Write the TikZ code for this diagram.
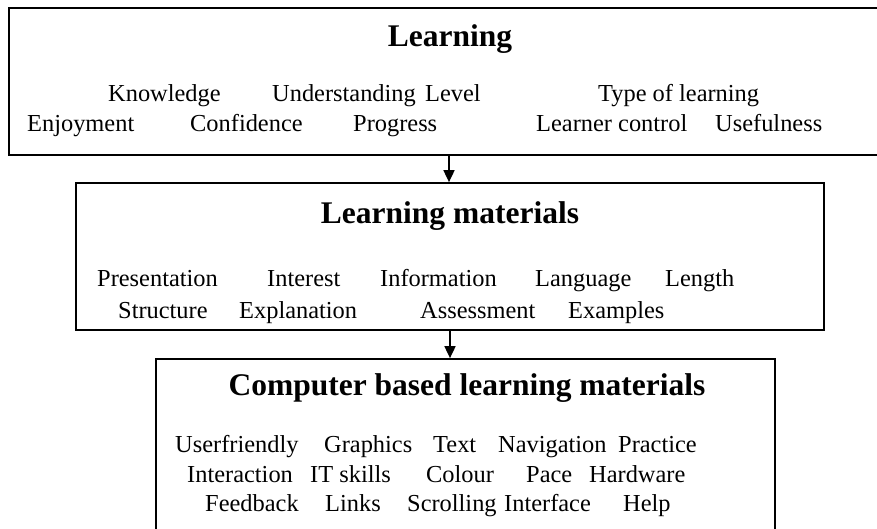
\documentclass[tikz,border=0pt]{standalone}
\usepackage{fontspec}
\setmainfont{Liberation Serif}
\usetikzlibrary{arrows.meta}
\begin{document}
\begin{tikzpicture}[x=1pt,y=-1pt,
  frame/.style={draw, line width=1.7pt, inner sep=0pt, rectangle},
  word/.style={anchor=base west, inner sep=0pt, font=\fontsize{24.4}{29}\selectfont},
  heading/.style={anchor=base, inner sep=0pt, font=\fontsize{31.5}{36}\selectfont\bfseries},
  link/.style={line width=1.7pt, -{Triangle[length=12pt,width=11pt]}}]
\useasboundingbox (0,0) rectangle (877,529);

% the three boxes
\node[frame, minimum width=876pt, minimum height=147pt] (learning) at (447,81.5) {};
\node[frame, minimum width=748pt, minimum height=147pt] (materials) at (450,256.5) {};
\node[frame, minimum width=619pt, minimum height=181pt] (cbl) at (465.5,449.5) {};

% box headings
\node[heading] (h1) at (450,47) {Learning};
\node[heading] (h2) at (450,223) {Learning materials};
\node[heading] (h3) at (467,395) {Computer based learning materials};

% Learning
\node[word] (w11) at (108,102) {Knowledge};
\node[word] (w12) at (272,102) {Understanding};
\node[word] (w13) at (425,102) {Level};
\node[word] (w14) at (598,102) {Type of learning};
\node[word] (w15) at (27,132) {Enjoyment};
\node[word] (w16) at (190,132) {Confidence};
\node[word] (w17) at (353,132) {Progress};
\node[word] (w18) at (536,132) {Learner control};
\node[word] (w19) at (715,132) {Usefulness};

% Learning materials
\node[word] (w21) at (97,286) {Presentation};
\node[word] (w22) at (267,286) {Interest};
\node[word] (w23) at (380,286) {Information};
\node[word] (w24) at (535,286) {Language};
\node[word] (w25) at (665,286) {Length};
\node[word] (w26) at (118,318) {Structure};
\node[word] (w27) at (239,318) {Explanation};
\node[word] (w28) at (420,318) {Assessment};
\node[word] (w29) at (568,318) {Examples};

% Computer based learning materials
\node[word] (w31) at (175,452) {Userfriendly};
\node[word] (w32) at (324,452) {Graphics};
\node[word] (w33) at (433,452) {Text};
\node[word] (w34) at (498,452) {Navigation};
\node[word] (w35) at (618,452) {Practice};
\node[word] (w36) at (187,482) {Interaction};
\node[word] (w37) at (310,482) {IT skills};
\node[word] (w38) at (426,482) {Colour};
\node[word] (w39) at (526,482) {Pace};
\node[word] (w3a) at (589,482) {Hardware};
\node[word] (w3b) at (205,511) {Feedback};
\node[word] (w3c) at (325,511) {Links};
\node[word] (w3d) at (407,511) {Scrolling};
\node[word] (w3e) at (504,511) {Interface};
\node[word] (w3f) at (623,511) {Help};

% connectors
\coordinate (x1) at (449,0);
\coordinate (x2) at (450,0);
\draw[link] (learning.south -| x1) -- (materials.north -| x1);
\draw[link] (materials.south -| x2) -- (cbl.north -| x2);
\end{tikzpicture}
\end{document}
